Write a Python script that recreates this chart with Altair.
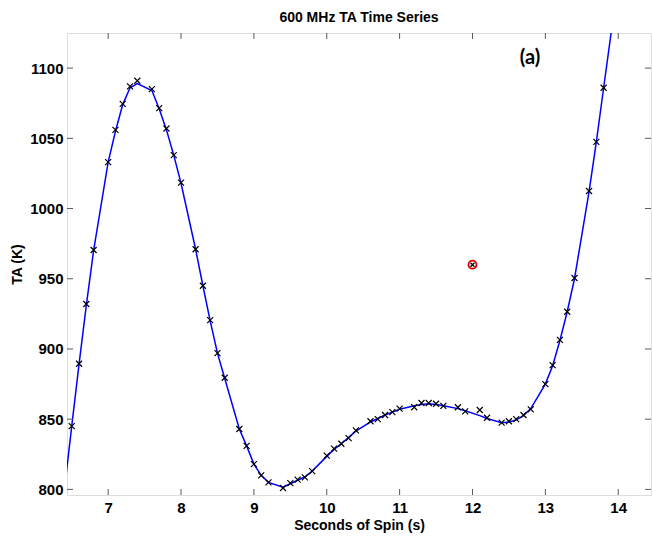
import altair as alt
import pandas as pd

# Smooth fitted curve
line_x = [6.4, 6.5, 6.6, 6.7, 6.8, 7.0, 7.1, 7.2, 7.3, 7.4, 7.6, 7.7, 7.8, 7.9, 8.0,
          8.2, 8.3, 8.4, 8.5, 8.6, 8.8, 8.9, 9.0, 9.1, 9.2, 9.4, 9.5, 9.6, 9.7, 9.8,
          10.0, 10.1, 10.2, 10.3, 10.4, 10.6, 10.7, 10.8, 10.9, 11.0, 11.2, 11.3, 11.4,
          11.5, 11.6, 11.8, 11.9, 12.1, 12.2, 12.4, 12.5, 12.6, 12.7, 12.8, 13.0, 13.1,
          13.2, 13.3, 13.4, 13.6, 13.7, 13.8, 13.9, 14.0]
line_y = [800, 845, 889, 931, 970, 1033, 1055, 1074, 1086, 1089, 1084, 1071, 1056, 1038, 1018,
          971, 945, 920, 897, 879, 843, 831, 818, 810, 805, 801.5, 804, 806.5, 809, 813,
          823.5, 828.5, 832.5, 837, 841.5, 848, 850.5, 853, 855, 857, 859.5, 860.5, 861,
          860.5, 859.5, 857.5, 856, 852.5, 850.5, 847.5, 848, 849.5, 852.5, 857.5, 875, 888,
          906, 926.5, 950, 1012, 1047.5, 1086, 1124, 1165]

# Measured samples (x markers)
pts_x = [6.5, 6.6, 6.7, 6.8, 7.0, 7.1, 7.2, 7.3, 7.4, 7.6, 7.7, 7.8, 7.9, 8.0,
         8.2, 8.3, 8.4, 8.5, 8.6, 8.8, 8.9, 9.0, 9.1, 9.2, 9.4, 9.5, 9.6, 9.7, 9.8,
         10.0, 10.1, 10.2, 10.3, 10.4, 10.6, 10.7, 10.8, 10.9, 11.0, 11.2, 11.3, 11.4,
         11.5, 11.6, 11.8, 11.9, 12.1, 12.2, 12.4, 12.5, 12.6, 12.7, 12.8, 13.0, 13.1,
         13.2, 13.3, 13.4, 13.6, 13.7, 13.8]
pts_y = [845, 889.5, 932, 970.5, 1033, 1056, 1074.5, 1087, 1091, 1085, 1071.5, 1057, 1038, 1018.5,
         971, 945, 920.5, 897, 879.5, 843, 831, 818, 810, 805, 801, 804.5, 807, 808.5, 813,
         824, 829, 832.5, 836.5, 842, 848.5, 850, 853, 855, 857.5, 858.5, 861.5, 861.5,
         861, 859.5, 858.5, 855.5, 856.5, 851, 847.5, 848.5, 850, 853, 857, 875, 888.5,
         906.5, 926.5, 950.5, 1012.5, 1047.5, 1086]

# Highlighted point
hl_x = [12.0]
hl_y = [960]

x_ticks = [7, 8, 9, 10, 11, 12, 13, 14]
y_ticks = [800, 850, 900, 950, 1000, 1050, 1100]

W, H = 584, 462
X_DOM = [6.435, 14.45]
Y_DOM = [796, 1125]
FONT = "Liberation Sans"
AXC = "#5a5a5a"

xs = alt.Scale(domain=X_DOM, nice=False, zero=False)
ys = alt.Scale(domain=Y_DOM, nice=False, zero=False)

line_df = pd.DataFrame({"t": line_x, "ta": line_y})
pts_df = pd.DataFrame({"t": pts_x, "ta": pts_y})
hl_df = pd.DataFrame({"t": hl_x, "ta": hl_y})
xt_df = pd.DataFrame({"t": x_ticks})
yt_df = pd.DataFrame({"ta": y_ticks})

xaxis = alt.Axis(values=x_ticks, format="d", ticks=False, domain=False, grid=False, labelFont=FONT,
                 labelFontSize=15, labelFontWeight="bold", labelColor="black", labelPadding=5,
                 title="Seconds of Spin (s)", titleFont=FONT, titleFontSize=14,
                 titleFontWeight="bold", titleColor="black", titlePadding=3)
yaxis = alt.Axis(values=y_ticks, format="d", ticks=False, domain=False, grid=False, labelFont=FONT,
                 labelFontSize=15, labelFontWeight="bold", labelColor="black", labelPadding=4,
                 title="TA (K)", titleFont=FONT, titleFontSize=14,
                 titleFontWeight="bold", titleColor="black", titlePadding=5)

X = alt.X("t:Q", scale=xs, axis=xaxis, title="Seconds of Spin (s)")
Y = alt.Y("ta:Q", scale=ys, axis=yaxis, title="TA (K)")

curve = alt.Chart(line_df).mark_line(color="#0000ff", strokeWidth=1.5, clip=True).encode(x=X, y=Y)

xshape = "M-1,-1L1,1M-1,1L1,-1"
markers = alt.Chart(pts_df).mark_point(shape=xshape, color="black", size=36, strokeWidth=1.2,
                                       filled=False, opacity=1).encode(x=X, y=Y)

hl_circle = alt.Chart(hl_df).mark_point(shape="circle", color="#e00000", size=64, strokeWidth=1.8,
                                        filled=False, opacity=1).encode(x=X, y=Y)
hl_x_mark = alt.Chart(hl_df).mark_point(shape=xshape, color="black", size=16, strokeWidth=1.3,
                                        filled=False, opacity=1).encode(x=X, y=Y)

tick_len = 6
xt_bottom = alt.Chart(xt_df).mark_rule(color=AXC, strokeWidth=1).encode(
    x=X, y=alt.value(H), y2=alt.value(H - tick_len))
xt_top = alt.Chart(xt_df).mark_rule(color=AXC, strokeWidth=1).encode(
    x=X, y=alt.value(0), y2=alt.value(tick_len))
yt_left = alt.Chart(yt_df).mark_rule(color=AXC, strokeWidth=1).encode(
    y=Y, x=alt.value(0), x2=alt.value(tick_len))
yt_right = alt.Chart(yt_df).mark_rule(color=AXC, strokeWidth=1).encode(
    y=Y, x=alt.value(W), x2=alt.value(W - tick_len))

label = alt.Chart(pd.DataFrame({"txt": ["(a)"]})).mark_text(
    font="Lato", fontSize=20, fontWeight="bold", color="black", align="center", baseline="middle"
).encode(text="txt:N", x=alt.value(463), y=alt.value(25))

chart = alt.layer(
    curve, markers, hl_circle, hl_x_mark, xt_bottom, xt_top, yt_left, yt_right, label
).properties(
    width=W, height=H,
    title=alt.TitleParams("600 MHz TA Time Series", font=FONT, fontSize=14, fontWeight="bold",
                          color="black", anchor="middle", offset=8),
    autosize=alt.AutoSizeParams(type="none"),
    padding={"left": 67, "top": 33, "right": 1, "bottom": 42},
).configure_view(stroke=AXC, strokeWidth=1).configure(background="white")

chart.save("out.html", embed_options={"renderer": "svg", "actions": False})
